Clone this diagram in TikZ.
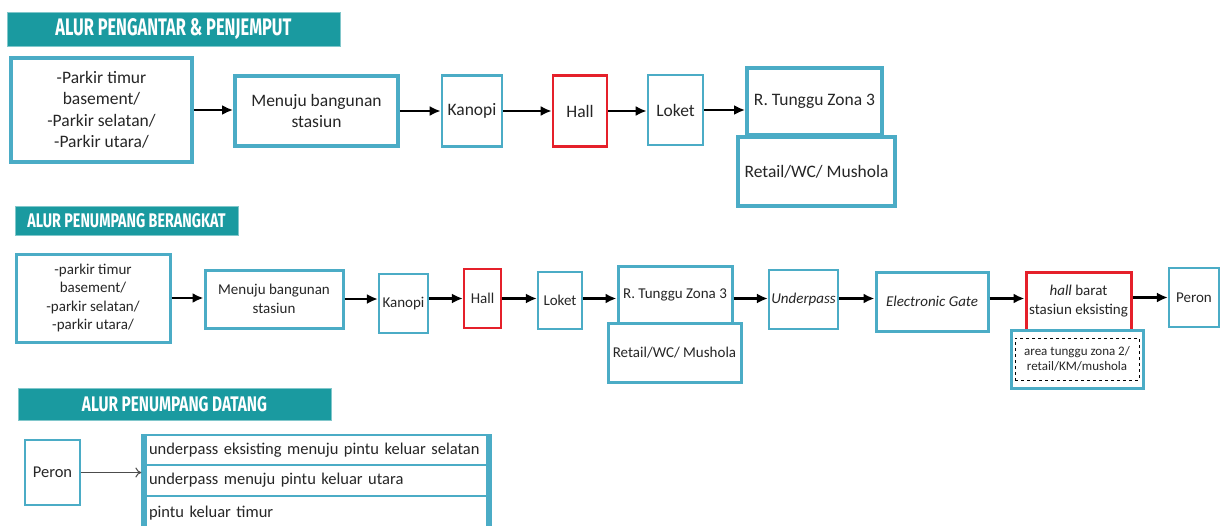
\documentclass[tikz,border=0pt]{standalone}
\usepackage{fontspec}
\setmainfont{Carlito}
\newfontfamily\headfont{Fira Sans}
\usetikzlibrary{positioning, arrows.meta}

\definecolor{bannerteal}{HTML}{1A9AA0}
\definecolor{boxblue}{HTML}{4BACC6}
\definecolor{boxred}{HTML}{E5202A}

% banner caption squeezed to width x cap height
\newcommand{\bannertext}[3]{\resizebox{#1pt}{#2pt}{\headfont\bfseries #3}}

\begin{document}
\begin{tikzpicture}[
        x=1pt, y=-1pt,
        banner/.style={rectangle, fill=bannerteal, draw=bannerteal!55, line width=1pt, inner sep=0pt, text=white},
        block/.style={rectangle, draw=boxblue, line width=3.8pt, fill=white, align=center, inner sep=1pt, text=black!85, font=\fontsize{17.5}{21.5}\selectfont},
        thinblock/.style={block, line width=2.6pt},
        hallblock/.style={block, draw=boxred, line width=2.6pt},
        midtext/.style={line width=3pt, font=\fontsize{15}{18.5}\selectfont},
        listrow/.style={rectangle, draw=boxblue, line width=1.2pt, fill=white, text width=335pt, inner xsep=7pt, inner ysep=0pt, align=left, text=black!85, font=\fontsize{16.5}{19}\selectfont},
        line/.style={draw, -{Latex[length=11pt, width=10pt]}, line width=2.8pt},
        thinline/.style={draw=black!70, -{To[length=6pt, width=10pt]}, line width=1pt}
    ]
        \fill [white] (0,0) rectangle (1220,525);
        \useasboundingbox (0,0) rectangle (1220,525);

        % alur pengantar & penjemput
        \node [banner, minimum width=333pt, minimum height=34pt] (ban1) at (173.5,29) {\bannertext{236}{17}{ALUR PENGANTAR \& PENJEMPUT}};
        \node [block, minimum width=181pt, minimum height=104pt] (park1) at (101.5,110) {-Parkir timur\\basement/\\-Parkir selatan/\\-Parkir utara/};
        \node [block, minimum width=163pt, minimum height=70pt] (menuju1) at (316.5,111) {Menuju bangunan\\stasiun};
        \node [thinblock, minimum width=60pt, minimum height=71pt] (kanopi1) at (472,111) {Kanopi};
        \node [hallblock, minimum width=54pt, minimum height=71pt] (hall1) at (580,111) {Hall};
        \node [thinblock, minimum width=55pt, minimum height=70pt] (loket1) at (675.5,110) {Loket};
        \node [block, minimum width=135pt, minimum height=67pt] (tunggu1) at (814.5,101.5) {R. Tunggu Zona 3};
        \node [block, minimum width=157pt, minimum height=69pt] (retail1) at (816.5,171.5) {Retail/WC/ Mushola};

        \path [line] (park1) -- (park1 -| menuju1.west);
        \path [line] (menuju1) -- (menuju1 -| kanopi1.west);
        \path [line] (kanopi1) -- (kanopi1 -| hall1.west);
        \path [line] (hall1) -- (hall1 -| loket1.west);
        \path [line] (loket1) -- (loket1 -| tunggu1.west);

        % alur penumpang berangkat
        \node [banner, minimum width=223pt, minimum height=29pt] (ban2) at (126.5,220.5) {\bannertext{198}{14}{ALUR PENUMPANG BERANGKAT}};
        \node [block, midtext, minimum width=154pt, minimum height=88pt] (park2) at (93,298) {-parkir timur\\basement/\\-parkir selatan/\\-parkir utara/};
        \node [block, midtext, minimum width=138pt, minimum height=58pt] (menuju2) at (274,299) {Menuju bangunan\\stasiun};
        \node [thinblock, midtext, line width=2.2pt, minimum width=49pt, minimum height=59pt] (kanopi2) at (403.5,303.5) {Kanopi};
        \node [hallblock, midtext, line width=2.2pt, minimum width=37pt, minimum height=59pt] (hall2) at (482.5,298.5) {Hall};
        \node [thinblock, midtext, line width=2.2pt, minimum width=44pt, minimum height=57pt] (loket2) at (560,300.5) {Loket};
        \node [block, midtext, minimum width=114pt, minimum height=57pt] (tunggu2) at (675,294.5) {R. Tunggu Zona 3};
        \node [block, midtext, minimum width=133pt, minimum height=59pt] (retail2) at (674.5,352.5) {Retail/WC/ Mushola};
        \node [thinblock, midtext, line width=2.2pt, minimum width=69pt, minimum height=59pt] (under2) at (803.5,299.5) {\textit{Underpass}};
        \node [block, midtext, minimum width=112pt, minimum height=59pt] (gate2) at (932,301.5) {\textit{Electronic Gate}};
        \node [hallblock, midtext, minimum width=105pt, minimum height=58pt] (barat2) at (1078.5,301) {\textit{hall} barat\\stasiun eksisting};
        \node [block, line width=3pt, minimum width=132pt, minimum height=58pt] (area2) at (1077,359) {};
        \node [draw, dashed, line width=1pt, minimum width=124pt, minimum height=42pt, inner sep=0pt, align=center, text=black!85, font=\fontsize{13}{14.5}\selectfont] (areatxt) at (area2.center) {area tunggu zona 2/\\retail/KM/mushola};
        \node [thinblock, midtext, line width=2.2pt, minimum width=50pt, minimum height=59pt] (peron2) at (1194,297.5) {Peron};

        \path [line, line width=2.4pt] (park2) -- (park2 -| menuju2.west);
        \path [line, line width=2.4pt] (menuju2) -- (menuju2 -| kanopi2.west);
        \path [line, line width=2.4pt] (hall2 -| kanopi2.east) -- (hall2.west);
        \path [line, line width=2.4pt] (hall2) -- (hall2 -| loket2.west);
        \path [line, line width=2.4pt] (hall2 -| loket2.east) -- (hall2 -| tunggu2.west);
        \path [line, line width=2.4pt] (hall2 -| tunggu2.east) -- (hall2 -| under2.west);
        \path [line, line width=2.4pt] (hall2 -| under2.east) -- (hall2 -| gate2.west);
        \path [line, line width=2.4pt] (hall2 -| gate2.east) -- (hall2 -| barat2.west);
        \path [line, line width=2.4pt] (peron2 -| barat2.east) -- (peron2.west);

        % alur penumpang datang
        \node [banner, minimum width=313pt, minimum height=32pt] (ban3) at (174.5,404) {\bannertext{185}{15}{ALUR PENUMPANG DATANG}};
        \node [thinblock, font=\fontsize{16.5}{19}\selectfont, minimum width=55pt, minimum height=65pt] (peron3) at (52.5,472.5) {Peron};
        \node [listrow, minimum height=30pt] (row1) at (316.5,450) {\mbox{underpass eksisting menuju pintu keluar selatan}};
        \node [listrow, minimum height=31pt] (row2) at (316.5,480.5) {\mbox{underpass menuju pintu keluar utara}};
        \node [listrow, minimum height=34pt] (row3) at (316.5,513) {\mbox{pintu keluar timur}};
        \draw [boxblue, line width=5.5pt] ([xshift=2.75pt]row1.north west) -- ([xshift=2.75pt]row3.south west);
        \draw [boxblue, line width=5.5pt] ([xshift=-2.75pt]row1.north east) -- ([xshift=-2.75pt]row3.south east);

        \path [thinline] (peron3) -- (peron3 -| row2.west);
    \end{tikzpicture}
\end{document}
